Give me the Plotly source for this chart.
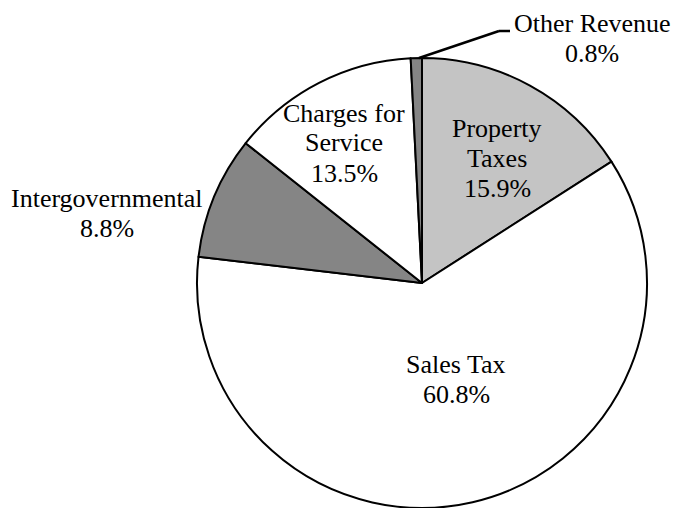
import plotly.graph_objects as go

labels = ["Property Taxes", "Sales Tax", "Intergovernmental", "Charges for Service", "Other Revenue"]
values = [15.9, 60.8, 8.8, 13.5, 0.8]
label_lines = [["Property", "Taxes"], ["Sales Tax"], ["Intergovernmental"], ["Charges for", "Service"], ["Other Revenue"]]
colors = ["#c4c4c4", "#ffffff", "#858585", "#ffffff", "#858585"]

W, H = 674, 508
# label block: centre x and the y of the first line's middle (pixels from top)
label_pos = [(497, 128), (456, 364), (107, 198), (344, 113), (592, 23)]
LINE_GAP = 30

R = 225
fig = go.Figure(go.Pie(
    labels=labels, values=values, sort=False, direction="clockwise", rotation=0,
    marker=dict(colors=colors, line=dict(color="black", width=2)),
    textinfo="none", hoverinfo="label+percent", showlegend=False,
    domain=dict(x=[(422 - R) / W, (422 + R) / W], y=[max(0, (H - 283 - R) / H), (H - 283 + R) / H]),
))

FONT = "Liberation Serif, Times New Roman, serif"
for lines, v, (px, py) in zip(label_lines, values, label_pos):
    for k, line in enumerate(lines + [f"{v:.1f}%"]):
        fig.add_annotation(
            x=px / W, y=1 - (py + k * LINE_GAP) / H, xref="paper", yref="paper",
            text=line, showarrow=False, xanchor="center", yanchor="middle",
            font=dict(family=FONT, size=26, color="black"),
        )

# leader line for Other Revenue
pts = [(419, 58), (499, 31), (510, 31)]
for (x0, y0), (x1, y1) in zip(pts[:-1], pts[1:]):
    fig.add_shape(type="line", xref="paper", yref="paper",
                  x0=x0 / W, y0=1 - y0 / H, x1=x1 / W, y1=1 - y1 / H,
                  line=dict(color="black", width=2.5))

fig.update_layout(width=W, height=H, margin=dict(l=0, r=0, t=0, b=0),
                  font=dict(family=FONT),
                  paper_bgcolor="white", plot_bgcolor="white")
fig.write_html("out.html")
